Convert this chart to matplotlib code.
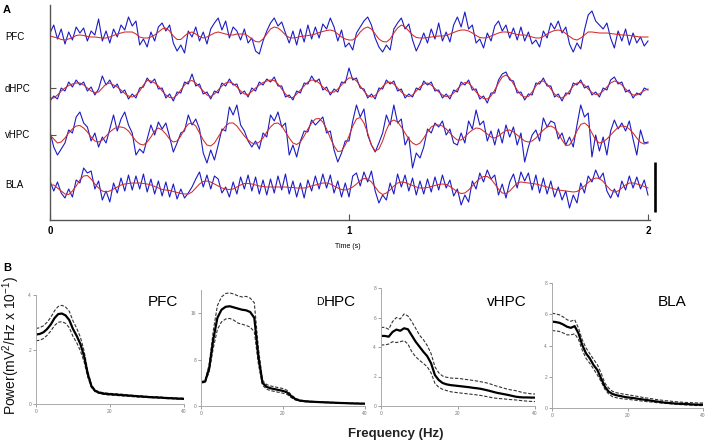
import matplotlib
matplotlib.use("Agg")
import matplotlib.pyplot as plt
import numpy as np
from matplotlib import font_manager

# ---------------- Panel A data (offsets in trace units, positive up; dt = 0.0125 s) ----------------
channels = ["PFC", "dHPC", "vHPC", "BLA"]

pfc_red = [-1, -2, -3, -4.5, -5, -4, -2.5, -0.5, 0, -0.5,
           -1.5, -2, -2, -2.5, -3, -3, -2, -0.5, 1, 2,
           3, 3, 3, 1, -2, -3, -3, -2, 0, 3,
           6, 7, 4, -1, -4.5, -4.5, -1, 2, 3, 1,
           -1.5, -3, -2, 0, 2, 3, 2, 1, 0, 0,
           1, 1, 1, -1, -4, -6.5, -7, -4, 1, 6,
           8, 7, 4, 0, -2.5, -3, -2.5, -1.5, -1, -0.5,
           0, 1, 2.5, 3.5, 4.5, 5, 4, 1, -2, -4,
           -5, -5, -2, 3, 6.5, 8, 6, 1, -4, -6.5,
           -7, -4, 2, 7, 10, 8, 4, 0, -2.5, -3,
           -3, -2.5, -2, -1.5, -1, -1, -0.5, 1, 2.5, 4,
           5, 5, 4, 2, -0.5, -2.5, -3, -2.5, -1, 0.5,
           2, 3, 3, 2.5, 1.5, 0.5, 0, 0, -1, -2,
           -3, -3, -1.5, 1, 3, 4.5, 5, 4, 1.5, -1.5,
           -4, -5, -3, 0, 3, 3, 2.5, 2, 2, 2,
           1.5, 1, 0.5, 0, 0, -0.5, -1, -1.5, -2, -2, -2]
pfc_blue = [2, 10, -4, 6, -9, 3, -5, 8, 2, 7,
            -6, 4, 0, 16, -6, 4, -8, 6, -2, 10,
            5, 18, 9, 14, -10, -4, -12, 3, -6, 8,
            12, 4, 10, -8, -16, -10, -18, 4, -2, 8,
            -6, 3, -9, 6, 12, 17, 5, 14, -3, 8,
            4, -5, 6, -8, -3, -16, -19, -6, 4, 12,
            17, 9, 13, 2, -8, 4, -10, 6, -7, 10,
            -4, 8, -3, 11, 6, 17, 8, -6, 5, -12,
            -8, -15, 2, 8, 14, 18, 10, -3, -12, -17,
            -10, -15, 6, 12, 17, 6, 11, -5, -16, -8,
            2, -8, 6, -4, 12, -6, 3, -7, 10, 18,
            8, 23, 6, 10, -8, -4, -13, 2, -6, 9,
            14, 4, 10, -3, 7, -5, 8, -6, 3, -9,
            -5, -12, 4, -3, 12, 6, 14, 2, 8, -9,
            -17, -8, -14, 5, 20, 24, 14, 10, 6, 12,
            -3, -13, 4, -6, 6, -10, 2, -8, -2, -11, -6]

dhpc_red = [-10, -10, -7, -3, 0, 2.5, 4, 5, 5, 3,
            0, -3, -4.5, -4, 0, 4, 5, 3, 1, -2,
            -5.5, -8, -9, -7, -3, 3, 7.5, 7, 5, 2,
            -3, -7, -9.5, -10, -7, -2, 3, 6.5, 7.5, 5,
            1, -3, -7, -8.5, -6, -2, 2, 5, 6, 4.5,
            1, -3, -6, -6.5, -3.5, 0, 3, 5.5, 7, 8,
            7.5, 4, -1, -6, -9.5, -9.5, -6, -2, 2, 6,
            8, 7.5, 5, 1, -2.5, -4.5, -4, -1, 3, 7,
            10, 10, 7, 2, -3, -7.5, -9, -7.5, -3, 1.5,
            5, 6, 4, 0, -4, -7, -8.5, -7, -3, 1,
            4, 5, 3, -0.5, -4, -7, -8.5, -8, -5, -1,
            3, 5.5, 5, 1, -4, -8, -10.5, -11, -8, -2,
            5, 11, 13, 10, 4, -2, -7, -9, -8.5, -4,
            2, 6.5, 7, 4, -1, -6, -9, -10, -7.5, -3,
            2, 5, 5.5, 3, -1, -4.5, -6.5, -6, -3, 1,
            5, 7, 6, 3, -1, -4.5, -7, -7, -5, -2.5, -1]
dhpc_blue = [-13, -8, -11, 0, -3, 6, 1, 8, 3, 6,
             -3, 1, -7, -1, 12, 3, 8, 0, 4, -5,
             -2, -11, -6, -10, 0, 1, 10, 5, 9, -1,
             0, -10, -6, -13, -4, -5, 6, 4, 14, 2,
             4, -6, -4, -11, -3, -5, 5, 2, 9, 3,
             4, -6, -3, -9, 0, -3, 6, 3, 9, 6,
             11, 2, 2, -9, -7, -12, -3, -5, 5, 4,
             12, 6, 9, -2, 1, -7, -1, -4, 6, 5,
             20, 8, 10, 0, -1, -10, -6, -11, 0, -1,
             8, 4, 7, -3, -1, -10, -6, -9, 0, -2,
             7, 3, 6, -3, -2, -10, -6, -11, -2, -4,
             6, 3, 8, -2, -1, -11, -8, -15, -5, -5,
             8, 14, 16, 8, 7, -5, -4, -12, -6, -7,
             5, 4, 10, 2, 2, -9, -6, -13, -5, -6,
             5, 3, 8, 0, 2, -7, -4, -9, 0, -2,
             8, 11, 4, 6, -4, -2, -10, -5, -7, 0, -2]

vhpc_red = [0, -4, -8, -7, -3, 2, 6, 9, 9.5, 7,
            3, -2, -6, -7, -5, -1, 3, 6, 8, 8,
            7, 4, -1, -6, -9, -10, -7, -2, 4, 7,
            5, 1, -4, -7, -6, -1, 6, 11, 12, 9,
            2, -5, -10, -11, -8, -2, 4, 9, 12, 12,
            9, 4, -1, -5, -8, -9, -7, -3, 3, 8,
            11.5, 12, 9, 3, -3, -8, -9.5, -7, -1, 6,
            12, 16, 16.5, 13, 6, -3, -11, -16.5, -16, -10,
            -1, 9, 16, 17.5, 12, 2, -10, -16, -14, -6,
            5, 13, 15, 13, 8, 2, -4, -8, -10, -8,
            -3, 3, 8, 10, 10, 9, 6, 2, -2, -5,
            -5, -2, 2, 5, 7, 6.5, 4, 1, -2, -3,
            -1, 2, 4.5, 5, 3, 0, -3, -6, -7, -6,
            -3, 1, 5, 8, 9, 7, 2, -5, -10.5, -10,
            -4, 4, 10.5, 12, 9, 2, -5, -8, -7, -4,
            0, 4, 7.5, 9, 8.5, 6, 2, -3, -7.5, -9, -8]
vhpc_blue = [3, -12, -20, -14, -8, 5, 2, 18, 23, 12,
             8, -6, 2, -12, -2, -8, 6, 20, 4, 16,
             23, 10, 2, -20, -14, -18, -4, 10, 0, 13,
             6, 12, -2, -17, -8, 2, 4, 20, 10, 16,
             6, -18, -28, -15, -25, -10, 6, 4, 28, 20,
             30, 10, 4, -6, -12, -6, -14, 2, -2, 20,
             14, 23, 8, 12, -20, -10, -22, -6, 4, 3,
             15, 10, 14, 18, 2, 4, -15, -27, -18, -6,
             -6, 14, 30, 18, 26, 0, -10, -17, -8, 2,
             20, 10, 30, 12, 16, -10, -2, -33, -18, -23,
             -12, 6, 2, 12, 8, 14, 0, 6, -8, -10,
             2, -8, 14, 6, 25, 10, 14, -6, 4, -10,
             6, -8, 10, -2, 8, -10, 2, -27, -12, 0,
             5, -6, 17, 8, 14, 12, -4, 2, -10, -2,
             -12, 10, 30, 18, 22, -22, 0, -16, -2, -20,
             4, 15, 6, 12, 4, 14, -4, -20, 5, -8, -7]

bla_red = [0, 0, -3, -6, -9, -9.5, -6, -1, 5, 9,
           9.5, 6, 1, -3, -6, -7, -6, -4, -2, 0,
           1, 1.5, 2, 2, 2, 1.5, 1, 0, -1.5, -3,
           -4.5, -5, -5.5, -6.5, -7.5, -8.5, -9, -9, -7, -3,
           1, 3.5, 4, 3, 1, -1, -3, -4, -4.5, -4,
           -2, 0, 1.5, 1.5, 1, 0, -1, -1.5, -2, -2,
           -2, -2, -2, -2, -2.5, -2.5, -3, -3, -3, -2,
           -1, 0, 1, 2, 2, 1, -1, -3, -4.5, -5,
           -4, -2, 1, 4.5, 6.5, 6, 3, -2, -7, -9.5,
           -8, -5, -1, 2, 3, 2.5, 1, -0.5, -2, -3,
           -3, -2.5, -1.5, -0.5, 0.5, 1, 0.5, -1.5, -4, -7,
           -8.5, -8, -5, -1, 3, 6.5, 8.5, 8.5, 6, 1,
           -4, -8, -8.5, -6, -2, 2, 3, 2.5, 2, 1.5,
           1, 0, -1, -2, -3, -4, -5, -5.5, -6, -6.5,
           -7, -6.5, -4, -1, 2.5, 5.5, 7, 6.5, 3.5, -1,
           -5, -7, -6, -3, 0, 2, 2, 1, 0, -1.5, -3]
bla_blue = [4, -6, 3, -8, -13, -4, -12, 5, 2, 17,
            12, 14, -4, 4, -15, -6, -17, 2, -8, 7,
            -6, 10, -5, 9, -4, 11, -7, 6, -9, 4,
            -11, 3, -12, 1, -14, -4, -13, -8, -2, 6,
            13, -2, 10, -4, 9, 6, -8, -2, -12, 3,
            -9, 8, -4, 10, -6, 8, -9, 5, -10, 6,
            -8, 9, -5, 11, -9, 4, -12, 2, -13, 5,
            -6, 9, -4, 11, -3, 10, -8, 4, -12, 2,
            -12, 9, 12, -1, 13, 3, 14, -6, -18, -10,
            -15, 2, -9, 11, -2, 10, -6, 7, -10, 4,
            -9, 6, -7, 8, -5, 10, -3, 5, -11, -4,
            -20, -10, -17, 4, -4, 12, 3, 15, 6, 10,
            -10, 1, -13, 3, 11, -3, 13, 4, 12, -5,
            10, -8, 7, -9, 4, -12, -2, -15, -6, -23,
            -10, -18, 2, -8, 9, 3, 15, 6, 12, -6,
            -13, -4, -12, 4, -5, 9, -3, 8, -4, 5, -10]

time_ticks = [0, 1, 2]

# ---------------- Panel B data (f = 0..40 Hz, 1 Hz steps) ----------------
freqs = list(range(41))

pfc_mean = [2.55, 2.57, 2.63, 2.75, 2.92, 3.15, 3.3, 3.32, 3.25, 3.08,
            2.75, 2.5, 2.2, 1.75, 1.1, 0.65, 0.48, 0.42, 0.39, 0.37,
            0.36, 0.35, 0.34, 0.33, 0.32, 0.31, 0.3, 0.29, 0.28, 0.27,
            0.26, 0.25, 0.245, 0.24, 0.23, 0.22, 0.215, 0.21, 0.2, 0.195, 0.19]
pfc_upper = [2.77, 2.8, 2.87, 3.0, 3.18, 3.42, 3.58, 3.62, 3.56, 3.4,
             3.05, 2.78, 2.45, 1.95, 1.2, 0.7, 0.51, 0.45, 0.42, 0.4,
             0.39, 0.38, 0.37, 0.36, 0.35, 0.33, 0.32, 0.31, 0.3, 0.29,
             0.28, 0.27, 0.265, 0.26, 0.25, 0.24, 0.235, 0.23, 0.22, 0.215, 0.21]
pfc_lower = [2.32, 2.34, 2.4, 2.52, 2.68, 2.88, 3.0, 3.02, 2.96, 2.8,
             2.48, 2.25, 1.95, 1.55, 0.98, 0.6, 0.45, 0.39, 0.36, 0.34,
             0.33, 0.32, 0.31, 0.3, 0.29, 0.28, 0.27, 0.26, 0.25, 0.245,
             0.24, 0.23, 0.225, 0.22, 0.21, 0.2, 0.195, 0.19, 0.18, 0.175, 0.17]

dhpc_mean = [4.1, 4.2, 6.5, 11.5, 15.2, 16.6, 17.1, 17.2, 17.0, 16.8,
             16.6, 16.5, 16.2, 15.2, 8.5, 4.0, 3.3, 3.05, 2.9, 2.75,
             2.6, 2.35, 1.7, 1.2, 0.95, 0.85, 0.78, 0.74, 0.7, 0.67,
             0.64, 0.61, 0.58, 0.55, 0.52, 0.5, 0.47, 0.45, 0.43, 0.41, 0.4]
dhpc_upper = [4.2, 4.35, 7.2, 13.0, 17.3, 18.8, 19.4, 19.5, 19.3, 19.0,
              18.8, 18.9, 18.6, 17.8, 10.0, 4.4, 3.7, 3.45, 3.3, 3.15,
              3.0, 2.7, 1.95, 1.35, 1.05, 0.93, 0.85, 0.8, 0.76, 0.72,
              0.69, 0.66, 0.63, 0.6, 0.57, 0.54, 0.51, 0.49, 0.47, 0.45, 0.44]
dhpc_lower = [4.0, 4.05, 5.9, 10.0, 13.2, 14.5, 15.0, 15.1, 14.8, 14.3,
              14.1, 13.9, 13.6, 12.8, 7.2, 3.6, 2.9, 2.65, 2.5, 2.35,
              2.2, 2.0, 1.45, 1.05, 0.85, 0.77, 0.71, 0.68, 0.64, 0.61,
              0.58, 0.56, 0.53, 0.5, 0.48, 0.45, 0.43, 0.41, 0.39, 0.37, 0.36]

vhpc_mean = [4.75, 4.75, 4.7, 5.02, 5.18, 5.1, 5.27, 5.2, 4.78, 4.36,
             4.02, 3.68, 3.38, 2.9, 2.1, 1.76, 1.56, 1.47, 1.42, 1.39,
             1.36, 1.33, 1.3, 1.27, 1.23, 1.2, 1.16, 1.1, 1.04, 0.97,
             0.9, 0.85, 0.8, 0.75, 0.69, 0.63, 0.6, 0.58, 0.58, 0.57, 0.57]
vhpc_upper = [5.33, 5.33, 5.2, 5.72, 6.0, 5.9, 6.24, 6.1, 5.72, 5.27,
              4.8, 4.5, 4.1, 3.56, 2.66, 2.25, 2.03, 1.95, 1.9, 1.88,
              1.87, 1.84, 1.8, 1.77, 1.73, 1.69, 1.64, 1.59, 1.53, 1.44,
              1.35, 1.28, 1.2, 1.13, 1.08, 1.04, 0.97, 0.9, 0.86, 0.83, 0.81]
vhpc_lower = [4.14, 4.14, 4.2, 4.36, 4.3, 4.36, 4.43, 4.2, 3.68, 3.34,
              3.1, 2.89, 2.66, 2.25, 1.54, 1.27, 1.13, 1.05, 0.97, 0.93,
              0.9, 0.87, 0.84, 0.81, 0.78, 0.75, 0.71, 0.66, 0.61, 0.56,
              0.52, 0.5, 0.48, 0.45, 0.43, 0.41, 0.38, 0.35, 0.33, 0.31, 0.3]

bla_mean = [5.53, 5.5, 5.45, 5.34, 5.2, 5.13, 5.24, 4.79, 4.04, 3.5,
            3.18, 2.75, 2.44, 1.9, 1.37, 1.05, 0.9, 0.82, 0.77, 0.72,
            0.68, 0.65, 0.62, 0.58, 0.55, 0.51, 0.48, 0.44, 0.41, 0.37,
            0.34, 0.32, 0.3, 0.28, 0.27, 0.26, 0.25, 0.23, 0.22, 0.21, 0.21]
bla_upper = [6.07, 6.02, 5.96, 5.82, 5.65, 5.55, 5.65, 5.13, 4.38, 3.85,
             3.48, 3.12, 2.78, 2.24, 1.6, 1.28, 1.07, 0.98, 0.93, 0.89,
             0.85, 0.81, 0.77, 0.73, 0.68, 0.64, 0.61, 0.57, 0.53, 0.5,
             0.47, 0.45, 0.42, 0.4, 0.38, 0.36, 0.35, 0.34, 0.33, 0.32, 0.32]
bla_lower = [4.96, 4.93, 4.9, 4.8, 4.68, 4.68, 4.75, 4.4, 3.72, 3.18,
             2.86, 2.5, 2.12, 1.7, 1.2, 0.9, 0.73, 0.66, 0.61, 0.58,
             0.56, 0.53, 0.5, 0.47, 0.44, 0.41, 0.39, 0.36, 0.34, 0.32,
             0.3, 0.28, 0.26, 0.24, 0.22, 0.2, 0.19, 0.18, 0.16, 0.16, 0.15]

# ---------------- fonts ----------------
available = {f.name for f in font_manager.fontManager.ttflist}
base_font = "Liberation Sans" if "Liberation Sans" in available else "DejaVu Sans"
narrow_font = "Liberation Sans Narrow" if "Liberation Sans Narrow" in available else base_font
plt.rcParams["font.family"] = [base_font, "DejaVu Sans"]
plt.rcParams["mathtext.fontset"] = "custom"
plt.rcParams["mathtext.rm"] = base_font
plt.rcParams["mathtext.it"] = base_font

W, H = 708, 445
fig = plt.figure(figsize=(W / 100, H / 100), dpi=100)


def px_axes(l, t, r, b):
    return fig.add_axes([l / W, 1 - b / H, (r - l) / W, (b - t) / H])


def ftext(x, y, s, **kw):
    return fig.text(x / W, 1 - y / H, s, **kw)


# ---------------- Panel A ----------------
axA = px_axes(50, 5, 660, 220)
axA.set_xlim(0, 610 / 299)
axA.set_ylim(0, 215)
centers = {"PFC": 185, "dHPC": 132, "vHPC": 85, "BLA": 35}
blues = {"PFC": pfc_blue, "dHPC": dhpc_blue, "vHPC": vhpc_blue, "BLA": bla_blue}
reds = {"PFC": pfc_red, "dHPC": dhpc_red, "vHPC": vhpc_red, "BLA": bla_red}
for ch in channels:
    b = np.asarray(blues[ch], float)
    r = np.asarray(reds[ch], float)
    tb = np.arange(len(b)) * 0.0125
    tr = np.arange(len(r)) * 0.0125
    axA.plot(tb, centers[ch] + b, color="#1c1cc4", lw=0.8)
    axA.plot(tr, centers[ch] + r, color="#d42a2a", lw=0.75)

for s in ["top", "right"]:
    axA.spines[s].set_visible(False)
for s in ["left", "bottom"]:
    axA.spines[s].set_color("#555555")
    axA.spines[s].set_linewidth(1.0)
axA.spines["bottom"].set_bounds(0, 2.006)
axA.set_xticks(time_ticks)
axA.set_xticklabels([str(v) for v in time_ticks], fontsize=7, fontweight="bold")
axA.tick_params(axis="x", direction="in", length=4, width=0.8, color="#555555", pad=4)
axA.set_yticks([centers["dHPC"], centers["vHPC"]])
axA.set_yticklabels([])
axA.tick_params(axis="y", direction="in", length=4, width=0.8, color="#555555")
# scale bar
axA.plot([2.023, 2.023], [8, 58], color="black", lw=1.9, solid_capstyle="butt", clip_on=False)

ftext(3, 10, "A", fontsize=8, fontweight="bold", va="center")
for ch, yy in zip(channels, [37, 89, 135, 185]):
    ftext(5, yy, ch, fontsize=7, va="center")
ftext(348, 247, "Time (s)", fontsize=5, ha="center", va="center")

# ---------------- Panel B ----------------
ftext(3, 268, "B", fontsize=8, fontweight="bold", va="center")
ftext(11, 346, "Power(mV$^2$/Hz x 10$^{-1}$)", fontsize=10, rotation=90,
      ha="center", va="center", color="#111111")
ftext(396, 434, "Frequency (Hz)", fontsize=9.5, fontweight="bold", ha="center",
      va="center", color="#222222")

specs = [
    ("PFC", pfc_mean, pfc_upper, pfc_lower, (36, 295, 184, 404), 4, [0, 2, 4], 148),
    ("dHPC", dhpc_mean, dhpc_upper, dhpc_lower, (201, 290, 365, 406), 20, [0, 8, 16], 318),
    ("vHPC", vhpc_mean, vhpc_upper, vhpc_lower, (381, 288, 535, 406), 8, [0, 2, 4, 6, 8], 487),
    ("BLA", bla_mean, bla_upper, bla_lower, (552, 283, 703, 408), 8, [0, 2, 4, 6, 8], 658),
]
for name, m, u, lo, (l, t, r, b), ymax, yt, lx in specs:
    ax = px_axes(l, t, r, b)
    ax.plot(freqs, u, color="#333333", lw=0.8, ls=(0, (3, 1.5)))
    ax.plot(freqs, lo, color="#333333", lw=0.8, ls=(0, (3, 1.5)))
    ax.plot(freqs, m, color="black", lw=1.6)
    ax.set_xlim(0, 40)
    ax.set_ylim(0, ymax)
    ax.set_xticks([0, 20, 40])
    ax.set_yticks(yt)
    ax.tick_params(labelsize=3.5, length=2, width=0.5, colors="#777777", pad=1.5)
    for s in ["top", "right"]:
        ax.spines[s].set_visible(False)
    for s in ["left", "bottom"]:
        ax.spines[s].set_color("#aaaaaa")
        ax.spines[s].set_linewidth(0.7)
    ax.patch.set_alpha(0)
    if name == "dHPC":
        ftext(324, 302, "D", fontsize=7.5, ha="right", va="center",
              family=[narrow_font, "DejaVu Sans"])
        ftext(324, 302, "HPC", fontsize=11, ha="left", va="center",
              family=[narrow_font, "DejaVu Sans"])
    else:
        ftext(lx, 302, name, fontsize=11, ha="left", va="center",
              family=[narrow_font, "DejaVu Sans"])

fig.savefig("out.png", dpi=100)
